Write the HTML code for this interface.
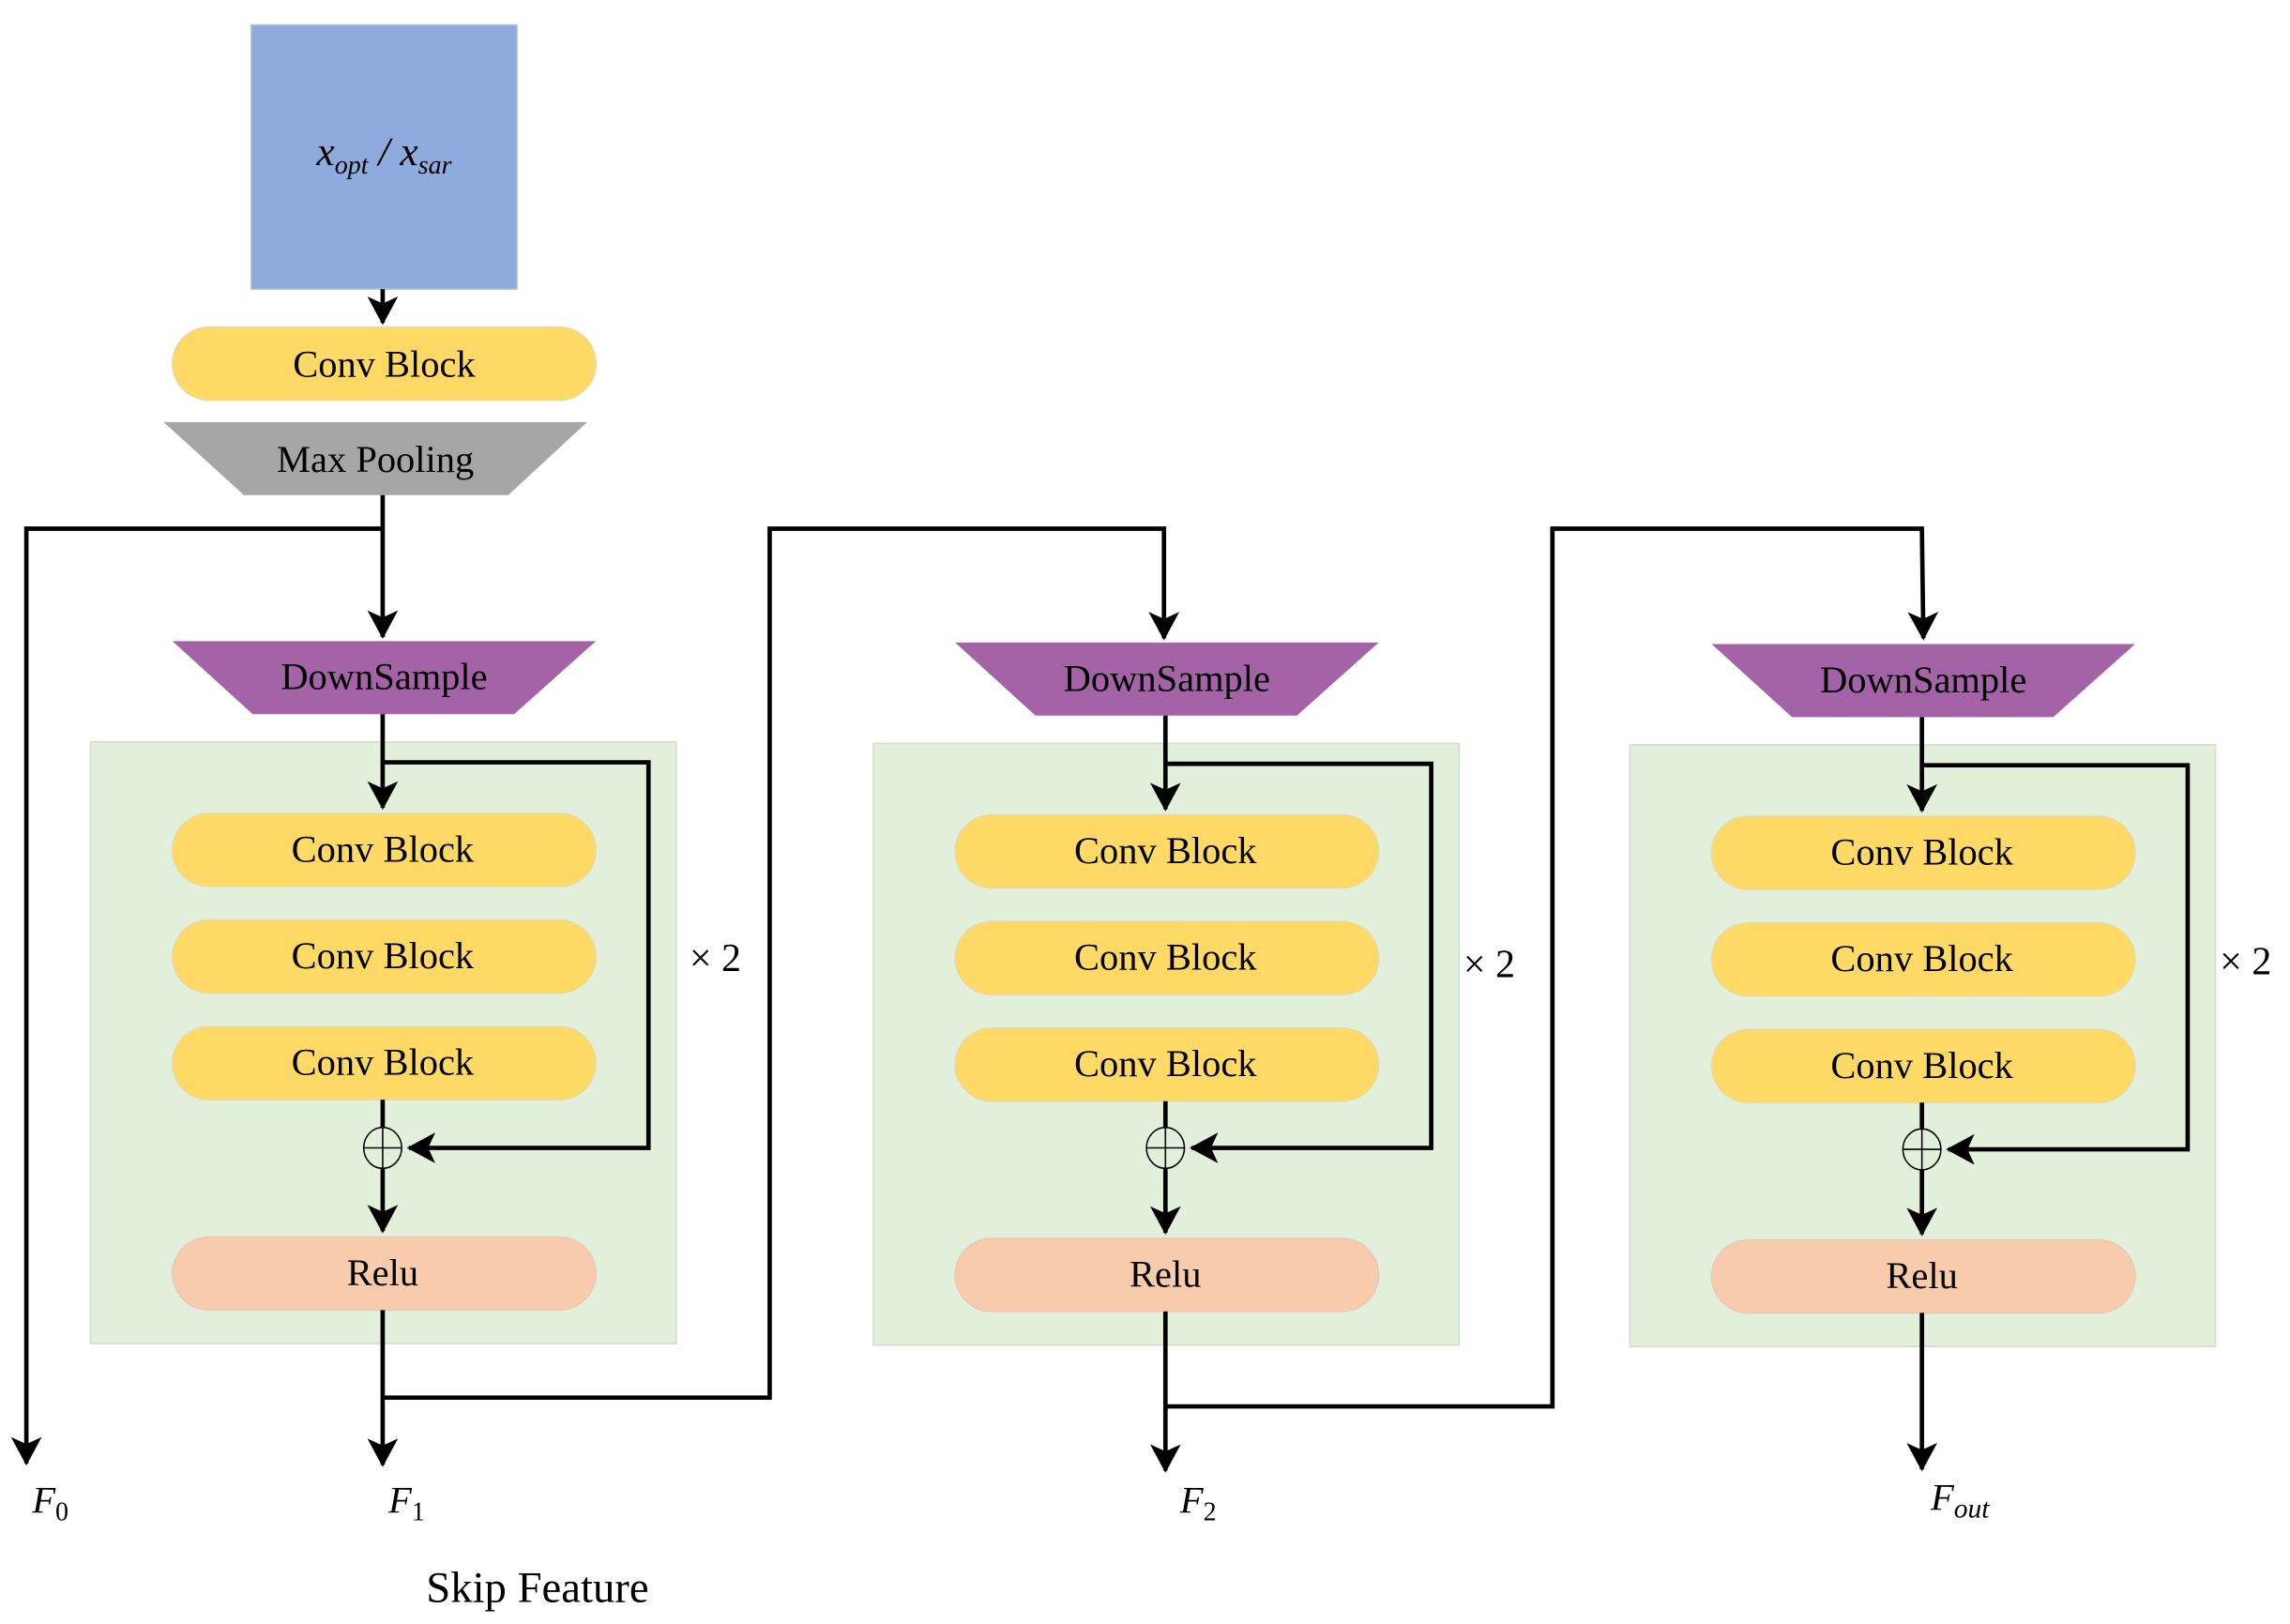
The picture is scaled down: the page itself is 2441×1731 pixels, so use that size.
<!DOCTYPE html>
<html><head><meta charset="utf-8"><style>
html,body{margin:0;padding:0;background:#fff;}
svg{display:block;}
text{font-family:"Liberation Serif",serif;fill:#000;}
</style></head><body>
<svg width="2441" height="1731" viewBox="0 0 1568 1112" xmlns="http://www.w3.org/2000/svg">
<defs>
<marker id="a" markerWidth="7" markerHeight="7" refX="6" refY="3.5" orient="auto" markerUnits="strokeWidth">
<path d="M0,0 L6.5,3.5 L0,7 L1.6,3.5 Z" fill="#000"/>
</marker>
</defs>
<rect width="1568" height="1112" fill="#fff"/>

<rect x="172" y="17" width="182" height="181" fill="#8faadc" stroke="#b4c4e4" stroke-width="1"/>
<text x="263" y="113" font-size="28" text-anchor="middle" font-style="italic">x<tspan font-size="18" dy="6">opt</tspan><tspan dy="-6" font-size="28"> / x</tspan><tspan font-size="18" dy="6">sar</tspan></text>
<line x1="262" y1="198" x2="262" y2="221" stroke="#000" stroke-width="3" marker-end="url(#a)"/>
<rect x="118" y="224" width="290" height="50" rx="25" fill="#ffd966" stroke="#e8d9a0"/>
<text x="263" y="258" font-size="26" text-anchor="middle">Conv Block</text>
<polygon points="112,289 402,289 348,339 167,339" fill="#a6a6a6"/>
<text x="257" y="323" font-size="26" text-anchor="middle">Max Pooling</text>

<polyline points="262,339 262,436" fill="none" stroke="#000" stroke-width="3" marker-end="url(#a)"/>
<polyline points="262,362 18,362 18,1002" fill="none" stroke="#000" stroke-width="3" marker-end="url(#a)"/>
<polyline points="262,957 527,957 527,362 797,362 797,437" fill="none" stroke="#000" stroke-width="3" marker-end="url(#a)"/>
<polyline points="798,963 1063,963 1063,362 1316,362 1317,437" fill="none" stroke="#000" stroke-width="3" marker-end="url(#a)"/>

<g id="b1">
<polygon points="118,439 408,439 352,489 173,489" fill="#a363a6"/>
<text x="263" y="472" font-size="26" text-anchor="middle">DownSample</text>
<rect x="62" y="508" width="401" height="412" fill="#e2efda" stroke="#d4dccf"/>
<line x1="262" y1="489" x2="262" y2="553" stroke="#000" stroke-width="3" marker-end="url(#a)"/>
<polyline points="262,522 444,522 444,786 280,786" fill="none" stroke="#000" stroke-width="3" marker-end="url(#a)"/>
<rect x="118" y="557" width="290" height="50" rx="25" fill="#ffd966" stroke="#e8d9a0"/>
<text x="262" y="590" font-size="26" text-anchor="middle">Conv Block</text>
<rect x="118" y="630" width="290" height="50" rx="25" fill="#ffd966" stroke="#e8d9a0"/>
<text x="262" y="663" font-size="26" text-anchor="middle">Conv Block</text>
<rect x="118" y="703" width="290" height="50" rx="25" fill="#ffd966" stroke="#e8d9a0"/>
<text x="262" y="736" font-size="26" text-anchor="middle">Conv Block</text>
<line x1="262" y1="753" x2="262" y2="772" stroke="#000" stroke-width="3"/>
<ellipse cx="262" cy="786" rx="13" ry="14" fill="none" stroke="#000" stroke-width="1"/>
<line x1="249" y1="786" x2="275" y2="786" stroke="#000" stroke-width="1"/>
<line x1="262" y1="772" x2="262" y2="800" stroke="#000" stroke-width="1"/>
<line x1="262" y1="800" x2="262" y2="843" stroke="#000" stroke-width="3" marker-end="url(#a)"/>
<rect x="118" y="847" width="290" height="50" rx="25" fill="#f8cbad" stroke="#e8c8b8"/>
<text x="262" y="880" font-size="26" text-anchor="middle">Relu</text>
<line x1="262" y1="897" x2="262" y2="1003" stroke="#000" stroke-width="3" marker-end="url(#a)"/>
<text x="472" y="665" font-size="27">× 2</text>
</g>

<g transform="translate(536,1)">
<polygon points="118,439 408,439 352,489 173,489" fill="#a363a6"/>
<text x="263" y="472" font-size="26" text-anchor="middle">DownSample</text>
<rect x="62" y="508" width="401" height="412" fill="#e2efda" stroke="#d4dccf"/>
<line x1="262" y1="489" x2="262" y2="553" stroke="#000" stroke-width="3" marker-end="url(#a)"/>
<polyline points="262,522 444,522 444,785 280,785" fill="none" stroke="#000" stroke-width="3" marker-end="url(#a)"/>
<rect x="118" y="557" width="290" height="50" rx="25" fill="#ffd966" stroke="#e8d9a0"/>
<text x="262" y="590" font-size="26" text-anchor="middle">Conv Block</text>
<rect x="118" y="630" width="290" height="50" rx="25" fill="#ffd966" stroke="#e8d9a0"/>
<text x="262" y="663" font-size="26" text-anchor="middle">Conv Block</text>
<rect x="118" y="703" width="290" height="50" rx="25" fill="#ffd966" stroke="#e8d9a0"/>
<text x="262" y="736" font-size="26" text-anchor="middle">Conv Block</text>
<line x1="262" y1="753" x2="262" y2="771" stroke="#000" stroke-width="3"/>
<ellipse cx="262" cy="785" rx="13" ry="14" fill="none" stroke="#000" stroke-width="1"/>
<line x1="249" y1="785" x2="275" y2="785" stroke="#000" stroke-width="1"/>
<line x1="262" y1="771" x2="262" y2="799" stroke="#000" stroke-width="1"/>
<line x1="262" y1="799" x2="262" y2="843" stroke="#000" stroke-width="3" marker-end="url(#a)"/>
<rect x="118" y="847" width="290" height="50" rx="25" fill="#f8cbad" stroke="#e8c8b8"/>
<text x="262" y="880" font-size="26" text-anchor="middle">Relu</text>
<line x1="262" y1="897" x2="262" y2="1006" stroke="#000" stroke-width="3" marker-end="url(#a)"/>
<text x="466" y="668" font-size="27">× 2</text>
</g>

<g transform="translate(1054,2)">
<polygon points="118,439 408,439 352,489 173,489" fill="#a363a6"/>
<text x="263" y="472" font-size="26" text-anchor="middle">DownSample</text>
<rect x="62" y="508" width="401" height="412" fill="#e2efda" stroke="#d4dccf"/>
<line x1="262" y1="489" x2="262" y2="553" stroke="#000" stroke-width="3" marker-end="url(#a)"/>
<polyline points="262,522 444,522 444,785 280,785" fill="none" stroke="#000" stroke-width="3" marker-end="url(#a)"/>
<rect x="118" y="557" width="290" height="50" rx="25" fill="#ffd966" stroke="#e8d9a0"/>
<text x="262" y="590" font-size="26" text-anchor="middle">Conv Block</text>
<rect x="118" y="630" width="290" height="50" rx="25" fill="#ffd966" stroke="#e8d9a0"/>
<text x="262" y="663" font-size="26" text-anchor="middle">Conv Block</text>
<rect x="118" y="703" width="290" height="50" rx="25" fill="#ffd966" stroke="#e8d9a0"/>
<text x="262" y="736" font-size="26" text-anchor="middle">Conv Block</text>
<line x1="262" y1="753" x2="262" y2="771" stroke="#000" stroke-width="3"/>
<ellipse cx="262" cy="785" rx="13" ry="14" fill="none" stroke="#000" stroke-width="1"/>
<line x1="249" y1="785" x2="275" y2="785" stroke="#000" stroke-width="1"/>
<line x1="262" y1="771" x2="262" y2="799" stroke="#000" stroke-width="1"/>
<line x1="262" y1="799" x2="262" y2="843" stroke="#000" stroke-width="3" marker-end="url(#a)"/>
<rect x="118" y="847" width="290" height="50" rx="25" fill="#f8cbad" stroke="#e8c8b8"/>
<text x="262" y="880" font-size="26" text-anchor="middle">Relu</text>
<line x1="262" y1="897" x2="262" y2="1004" stroke="#000" stroke-width="3" marker-end="url(#a)"/>
<text x="466" y="665" font-size="27">× 2</text>
</g>

<text x="22" y="1036" font-size="26" font-style="italic">F<tspan font-size="18" dy="5" font-style="normal">0</tspan></text>
<text x="266" y="1036" font-size="26" font-style="italic">F<tspan font-size="18" dy="5" font-style="normal">1</tspan></text>
<text x="808" y="1036" font-size="26" font-style="italic">F<tspan font-size="18" dy="5" font-style="normal">2</tspan></text>
<text x="1322" y="1034" font-size="26" font-style="italic">F<tspan font-size="19" dy="5">out</tspan></text>
<text x="368" y="1097" font-size="30" text-anchor="middle">Skip Feature</text>
</svg>
</body></html>
